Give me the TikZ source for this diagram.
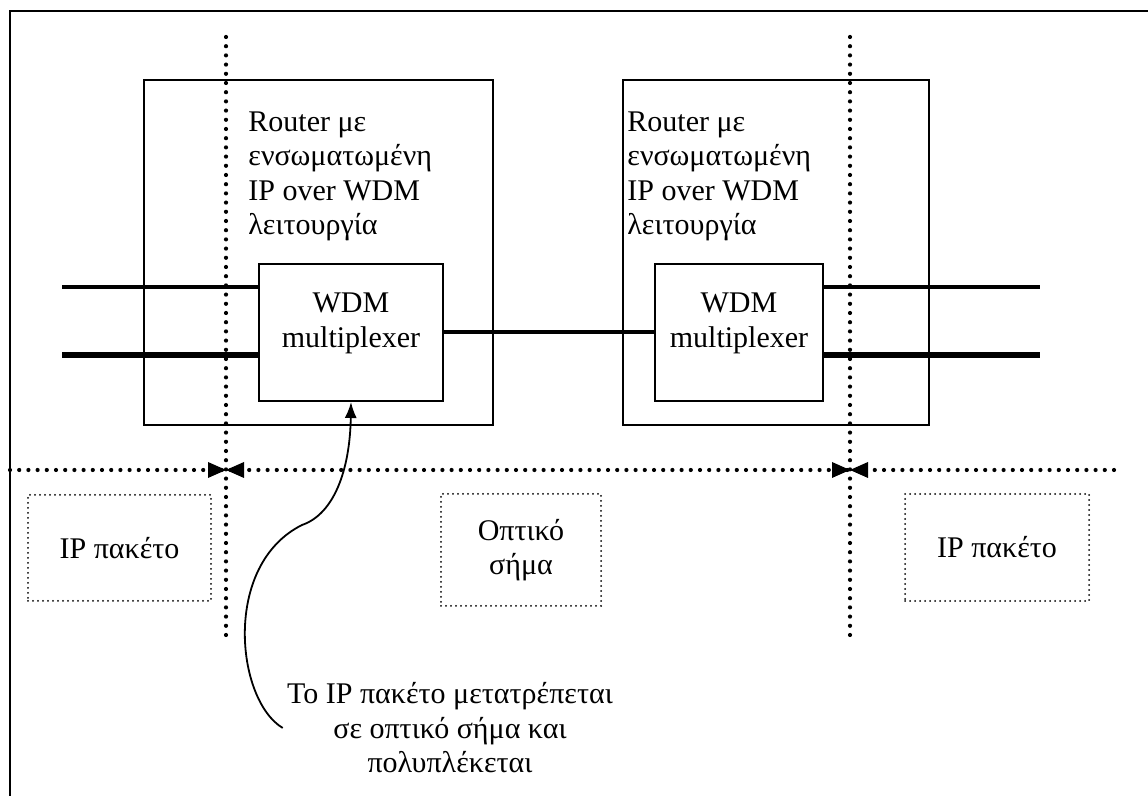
\documentclass[tikz,border=0pt]{standalone}
\usepackage{fontspec}
\setmainfont{Liberation Serif}
\usetikzlibrary{arrows.meta, positioning}

\begin{document}
\begin{tikzpicture}[x=0.5pt, y=-0.5pt, font=\fontsize{15}{17.25}\selectfont,
	box/.style={draw, line width=1pt, inner sep=0pt, anchor=north west},
	mux/.style={box, fill=white},
	pktbox/.style={draw, line width=1pt, line cap=round, dash pattern=on 0pt off 2.5pt,
		inner sep=0pt, anchor=north west, align=center},
	divider/.style={line width=2.1pt, line cap=round, dash pattern=on 0pt off 4.6pt},
	fiber/.style={line width=1.6pt},
	fiberthick/.style={line width=2.9pt},
	pointer/.style={line width=0.9pt, -{Latex[length=8pt,width=6pt]}}]
	\useasboundingbox (0,0) rectangle (1148,796);
	\fill[white] (0,0) rectangle (1148,796);
	\draw[line width=1.2pt] (10,796) -- (10,11) -- (1148,11);

	% routers
	\node[box, minimum width=174.5pt, minimum height=172.5pt] (lrouter) at (143,79) {};
	\node[box, minimum width=153pt, minimum height=172.5pt] (rrouter) at (622,79) {};
	\node[anchor=north west, inner sep=0pt, align=left] (ltext) at (248,111)
	{Router με\\ενσωματωμένη\\IP over WDM\\λειτουργία};
	\node[anchor=north west, inner sep=0pt, align=left] (rtext) at (627,111)
	{Router με\\ενσωματωμένη\\IP over WDM\\λειτουργία};

	% separators
	\coordinate (ltop) at (226,37);
	\coordinate (rtop) at (850,37);
	\coordinate (ldiv) at (226,470);
	\coordinate (rdiv) at (850,470);
	\draw[divider] (ltop) -- (226,635);
	\draw[divider] (rtop) -- (850,635);
	\draw[divider] (10,470) -- (1123,470);
	\foreach \c in {ldiv,rdiv} {
		\fill (\c) -- ++(-18,-8) -- ++(0,16) -- cycle;
		\fill (\c) -- ++(18,-8) -- ++(0,16) -- cycle;
	}

	% multiplexers
	\node[mux, minimum width=92pt, minimum height=68.5pt] (lwdm) at (258,263) {};
	\node[mux, minimum width=84pt, minimum height=68.5pt] (rwdm) at (654,263) {};
	\node[align=center] (lwdmtext) at ([yshift=4.5pt]lwdm.center) {WDM\\multiplexer};
	\node[align=center] (rwdmtext) at ([yshift=4.5pt]rwdm.center) {WDM\\multiplexer};

	\coordinate (lin1) at (62,287);
	\coordinate (lin2) at (62,355);
	\coordinate (rout1) at (1040,287);
	\coordinate (rout2) at (1040,355);
	\draw[fiber] (lin1) -- (lin1 -| lwdm.west);
	\draw[fiberthick] (lin2) -- (lin2 -| lwdm.west);
	\draw[line width=2pt] (lwdm.east) -- (rwdm.west);
	\draw[fiber] (rout1 -| rwdm.east) -- (rout1);
	\draw[fiberthick] (rout2 -| rwdm.east) -- (rout2);

	% packets
	\node[pktbox, minimum width=91.5pt, minimum height=53pt] (lpkt) at (27,494) {IP πακέτο};
	\node[pktbox, minimum width=80pt, minimum height=56pt] (optic) at (440,493) {Οπτικό\\σήμα};
	\node[pktbox, minimum width=92pt, minimum height=53.5pt] (rpkt) at (904,493) {IP πακέτο};

	% note
	\node[align=center, inner sep=0pt] (note) at (450,728)
	{Το IP πακέτο μετατρέπεται\\σε οπτικό σήμα και\\πολυπλέκεται};
	\coordinate (bend) at (302,525);
	\draw[pointer] ([xshift=-2pt]note.west) .. controls (236,700) and (222,565) .. (bend)
	.. controls (334,514) and (350,470) .. (lwdm.south);
\end{tikzpicture}
\end{document}
